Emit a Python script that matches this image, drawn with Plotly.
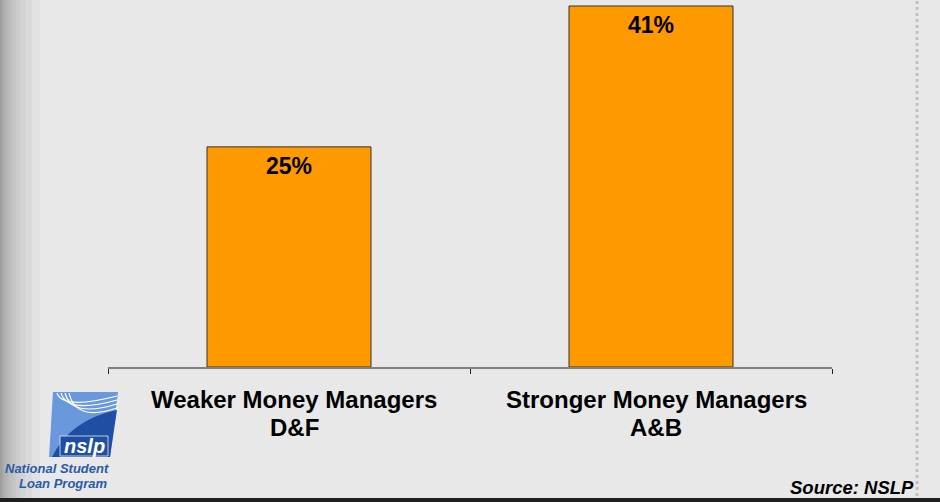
import plotly.graph_objects as go

categories = ["Weaker Money Managers", "Stronger Money Managers"]
sublabels = ["D&F", "A&B"]
values = [25, 41]
value_labels = ["25%", "41%"]
source_text = "Source: NSLP"

W, H = 940, 502
L, R, T, B = 108, 108, 0, 135
PW, PH = W - L - R, H - T - B
YMAX = 41.68
FONT = "Liberation Sans, Arial, sans-serif"

def px(x):
    return (x - L) / PW

def py(y):
    return (H - B - y) / PH

fig = go.Figure()
fig.add_trace(go.Bar(
    x=categories, y=values,
    marker=dict(color="#FF9900", line=dict(color="#333333", width=1)),
    width=0.453, hoverinfo="skip",
))

shapes = []
# left darker edge gradient
for w in [1, 2, 3, 4, 6, 8, 10, 13, 16, 20, 25, 32, 40]:
    shapes.append(dict(type="rect", xref="paper", yref="paper", layer="below",
                       x0=px(0), x1=px(w), y0=py(H), y1=py(0),
                       fillcolor="rgba(70,70,70,0.045)", line=dict(width=0)))
# right stitched seam
shapes.append(dict(type="line", xref="paper", yref="paper", layer="below",
                   x0=px(917), x1=px(917), y0=py(H), y1=py(0),
                   line=dict(color="rgba(160,160,160,0.55)", width=3, dash="dot")))
# bottom dark border
shapes.append(dict(type="rect", xref="paper", yref="paper",
                   x0=px(0), x1=px(W), y0=py(H), y1=py(498),
                   fillcolor="#1e1e1e", line=dict(width=0)))

# logo
def path(pts):
    return "M " + " L ".join(f"{px(a)},{py(b)}" for a, b in pts) + " Z"

shapes.append(dict(type="path", xref="paper", yref="paper",
                   path=path([(53, 392), (118, 392), (110, 457), (49, 457)]),
                   fillcolor="#6a98dc", line=dict(width=0)))
shapes.append(dict(type="path", xref="paper", yref="paper",
                   path=f"M {px(117)},{py(410)} L {px(110)},{py(457)} L {px(52)},{py(457)} "
                        f"Q {px(70)},{py(420)} {px(117)},{py(410)} Z",
                   fillcolor="#1f4fa3", line=dict(width=0)))
for sx, ex, ey in [(57, 117, 396), (61, 117, 400), (65, 117, 404), (69, 117, 408)]:
    shapes.append(dict(type="path", xref="paper", yref="paper",
                       path=f"M {px(sx)},{py(393)} Q {px(sx + 6)},{py(ey + 14)} {px(ex)},{py(ey)}",
                       line=dict(color="white", width=1.2)))
shapes.append(dict(type="rect", xref="paper", yref="paper",
                   x0=px(60), x1=px(108), y0=py(456), y1=py(436),
                   fillcolor="#1f4fa3", line=dict(color="rgba(255,255,255,0.7)", width=1)))

annotations = []
for c, s in zip(categories, sublabels):
    annotations.append(dict(text="<b>" + c + "</b>", x=c, xref="x", yref="paper", y=py(399),
                            yanchor="middle", xshift=5, showarrow=False,
                            font=dict(family=FONT, size=24, color="black")))
    annotations.append(dict(text="<b>" + s + "</b>", x=c, xref="x", yref="paper", y=py(427),
                            yanchor="middle", xshift=5, showarrow=False,
                            font=dict(family=FONT, size=24, color="black")))
for c, v, t in zip(categories, values, value_labels):
    annotations.append(dict(text="<b>" + t + "</b>", x=c, y=v, xref="x", yref="y",
                            yanchor="middle", yshift=-19, showarrow=False,
                            font=dict(family=FONT, size=23, color="black")))

annotations += [
    dict(text="<b><i>nslp</i></b>", xref="paper", yref="paper", x=px(84), y=py(446),
         xanchor="center", yanchor="middle",
         showarrow=False, font=dict(family=FONT, size=20, color="white")),
    dict(text="<b><i>National Student</i></b>", xref="paper", yref="paper", x=px(57), y=py(469),
         xanchor="center", yanchor="middle",
         showarrow=False, font=dict(family="Liberation Sans Narrow, " + FONT, size=13, color="#2a5aa8")),
    dict(text="<b><i>Loan Program</i></b>", xref="paper", yref="paper", x=px(63), y=py(483),
         xanchor="center", yanchor="middle",
         showarrow=False, font=dict(family="Liberation Sans Narrow, " + FONT, size=13, color="#2a5aa8")),
    dict(text="<b><i>" + source_text + "</i></b>", xref="paper", yref="paper",
         x=px(916), y=py(487), xanchor="right", yanchor="middle",
         showarrow=False, font=dict(family=FONT, size=18.5, color="black")),
]

fig.update_layout(
    width=W, height=H,
    margin=dict(l=L, r=R, t=T, b=B),
    paper_bgcolor="#e8e8e8", plot_bgcolor="rgba(0,0,0,0)",
    showlegend=False,
    shapes=shapes, annotations=annotations,
    xaxis=dict(showline=True, linecolor="#808080", linewidth=2,
               ticks="outside", tickson="boundaries", ticklen=5, tickcolor="#222",
               showticklabels=False, showgrid=False, fixedrange=True),
    yaxis=dict(range=[0, YMAX], visible=False, showgrid=False, fixedrange=True),
)
fig.write_html("out.html", config={"displayModeBar": False},
               post_script="document.body.style.margin='0';document.body.style.overflow='hidden';")
